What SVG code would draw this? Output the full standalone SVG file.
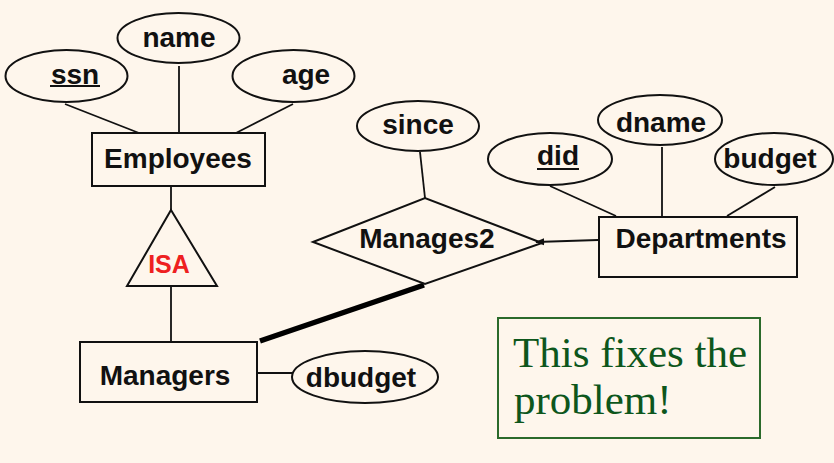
<svg xmlns="http://www.w3.org/2000/svg" width="834" height="463" viewBox="0 0 834 463">
<defs>
<style>
.bg{fill:#fef6ec}
.shape{fill:none;stroke:#111;stroke-width:2}
.ln{stroke:#111;stroke-width:1.8;fill:none}
.t{font-family:"Liberation Sans",Arial,sans-serif;font-weight:bold;font-size:28px;fill:#111;text-anchor:middle}
.ul{stroke:#111;stroke-width:2}
.note{font-family:"Liberation Serif","Times New Roman",serif;font-size:43px;fill:#0d561c}
</style>
<marker id="arr" viewBox="0 0 10 10" refX="9" refY="5" markerWidth="9" markerHeight="9" orient="auto" markerUnits="userSpaceOnUse">
<path d="M0,1 L10,5 L0,9 Z" fill="#111"/>
</marker>
</defs>
<rect class="bg" x="0" y="0" width="834" height="463"/>
<g id="connectors">
<line class="ln" x1="65" y1="104" x2="139" y2="133"/>
<line class="ln" x1="179" y1="66" x2="179" y2="133"/>
<line class="ln" x1="293" y1="104" x2="236" y2="133"/>
<line class="ln" x1="171" y1="186" x2="171" y2="210"/>
<line class="ln" x1="171" y1="286" x2="171" y2="342"/>
<line class="ln" x1="257" y1="373" x2="292" y2="373"/>
<line x1="260" y1="341" x2="424" y2="285" stroke="#000" stroke-width="5.5"/>
<line class="ln" x1="420" y1="152" x2="425" y2="198"/>
<line class="ln" x1="598" y1="240" x2="536" y2="242" marker-end="url(#arr)"/>
<line class="ln" x1="550" y1="186" x2="616" y2="216"/>
<line class="ln" x1="662" y1="147" x2="662" y2="216"/>
<line class="ln" x1="775" y1="187" x2="727" y2="216"/>
</g>
<g id="ssn"><ellipse class="shape" cx="66.5" cy="76" rx="61" ry="26"/><text class="t" x="75" y="84">ssn</text><line class="ul" x1="50" y1="86" x2="100" y2="86"/></g>
<g id="name"><ellipse class="shape" cx="178.5" cy="38" rx="61" ry="25"/><text class="t" x="179" y="47">name</text></g>
<g id="age"><ellipse class="shape" cx="293.5" cy="76" rx="61" ry="26"/><text class="t" x="306" y="84">age</text></g>
<g id="employees"><rect class="shape" x="92" y="133" width="173" height="53"/><text class="t" x="178" y="168">Employees</text></g>
<g id="isa"><polygon class="shape" points="171,210 217,286 127,286" stroke-width="2.5"/><text class="t" x="169" y="273" style="font-size:25px;fill:#ee2020">ISA</text></g>
<g id="managers"><rect class="shape" x="80" y="342" width="177" height="60"/><text class="t" x="165" y="385">Managers</text></g>
<g id="dbudget"><ellipse class="shape" cx="365" cy="377" rx="73" ry="26"/><text class="t" x="361" y="387">dbudget</text></g>
<g id="since"><ellipse class="shape" cx="418" cy="126" rx="61" ry="25"/><text class="t" x="418" y="134">since</text></g>
<g id="manages2"><polygon class="shape" points="313,242 425,198 542,243 425,284"/><text class="t" x="427" y="248">Manages2</text></g>
<g id="did"><ellipse class="shape" cx="550" cy="159" rx="62" ry="26"/><text class="t" x="558" y="165">did</text><line class="ul" x1="537" y1="169" x2="579" y2="169"/></g>
<g id="dname"><ellipse class="shape" cx="660" cy="120" rx="62" ry="25"/><text class="t" x="661" y="132">dname</text></g>
<g id="budget"><ellipse class="shape" cx="774" cy="159" rx="59" ry="26"/><text class="t" x="770" y="168">budget</text></g>
<g id="departments"><rect class="shape" x="599" y="217" width="198" height="60"/><text class="t" x="701" y="248">Departments</text></g>
<g id="note"><rect x="498" y="318" width="262" height="120" fill="none" stroke="#2b6a2b" stroke-width="2"/>
<text class="note" x="513" y="367">This fixes the</text>
<text class="note" x="514" y="414">problem!</text></g>
</svg>
